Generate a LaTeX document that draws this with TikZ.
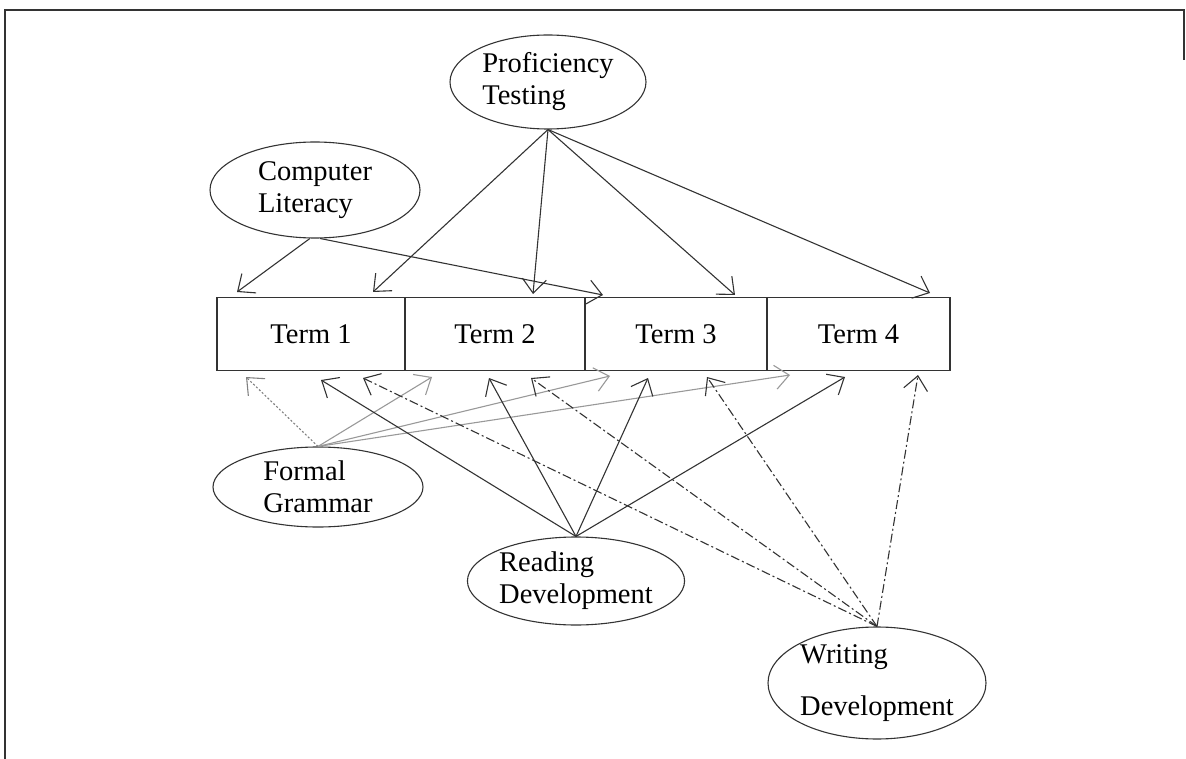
\documentclass[tikz,border=0pt]{standalone}
\usepackage{fontspec}
\setmainfont{Liberation Serif}
\usetikzlibrary{shapes.geometric,arrows.meta}
\begin{document}
\begin{tikzpicture}[x=1pt,y=-1pt,
  ink/.style={draw=black!80,line width=1.1pt},
  oval/.style={ellipse,ink,inner sep=0pt,align=left,font=\fontsize{28.5}{32}\selectfont},
  term/.style={rectangle,ink,inner sep=0pt,minimum height=73pt,font=\fontsize{28.5}{32}\selectfont},
  arr/.style={ink,-{Straight Barb[length=14pt,width=24pt]}},
  dd/.style={arr,dash pattern=on 9pt off 3pt on 2pt off 3pt},
  gr/.style={arr,draw=black!40},
  dots/.style={arr,draw=black!50,dash pattern=on 2pt off 2pt}]
\useasboundingbox (0,0) rectangle (1186,759);
% frame
\draw[line width=1.6pt,black!80] (5,759) -- (5,10) -- (1184,10) -- (1184,60);
% terms
\node[term,minimum width=188pt] (T1) at (311,334) {Term 1};
\node[term,minimum width=180pt] (T2) at (495,334) {Term 2};
\node[term,minimum width=182pt] (T3) at (676,334) {Term 3};
\node[term,minimum width=183pt] (T4) at (858.5,334) {Term 4};
% ovals
\node[oval,minimum width=196pt,minimum height=94pt] (PT) at (548,82) {Proficiency\\Testing};
\node[oval,minimum width=210pt,minimum height=96pt] (CL) at (315,190) {Computer\\Literacy};
\node[oval,minimum width=210pt,minimum height=80pt] (FG) at (318,487) {Formal\\Grammar};
\node[oval,minimum width=206pt,minimum height=88pt] (RD) at (576,581) {Reading\\Development};
\node[oval,minimum width=218pt,minimum height=112pt,font=\fontsize{28.5}{52}\selectfont] (WD) at (877,683) {Writing\\Development};
% tips above
\coordinate (p1) at (373,292);
\coordinate (p2) at (533,294);
\coordinate (p3) at (735,295);
\coordinate (p4) at (930,293);
\coordinate (c1) at (237,292);
\coordinate (c3) at (603,295);
% tips below
\coordinate (f1) at (246,377);
\coordinate (f2) at (432,377);
\coordinate (f3) at (610,376);
\coordinate (f4) at (790,375);
\coordinate (r1) at (321,380);
\coordinate (r2) at (489,378);
\coordinate (r3) at (648,378);
\coordinate (r4) at (845,377);
\coordinate (w1) at (363,378);
\coordinate (w2) at (531,378);
\coordinate (w3) at (707,377);
\coordinate (w4) at (918,375);
% proficiency
\foreach \t in {p1,p2,p3,p4} \draw[arr] (PT.south) -- (\t);
% computer literacy
\draw[arr] (CL.-96) -- (c1);
\draw[arr] (CL.-84) -- (c3);
% formal grammar
\draw[dots] (FG.north) -- (f1);
\foreach \t in {f2,f3,f4} \draw[gr] (FG.north) -- (\t);
% reading
\foreach \t in {r1,r2,r3,r4} \draw[arr] (RD.north) -- (\t);
% writing
\foreach \t in {w1,w2,w3,w4} \draw[dd] (WD.north) -- (\t);
\end{tikzpicture}
\end{document}
